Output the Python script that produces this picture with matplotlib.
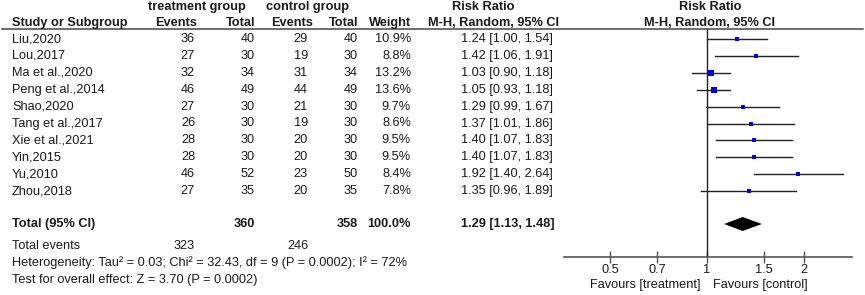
import matplotlib
matplotlib.use("Agg")
import matplotlib.pyplot as plt
import numpy as np

plt.rcParams['font.family'] = ['Liberation Sans', 'DejaVu Sans']

studies = ["Liu,2020", "Lou,2017", "Ma et al.,2020", "Peng et al.,2014", "Shao,2020",
           "Tang et al.,2017", "Xie et al.,2021", "Yin,2015", "Yu,2010", "Zhou,2018"]
t_events = [36, 27, 32, 46, 27, 26, 28, 28, 46, 27]
t_total = [40, 30, 34, 49, 30, 30, 30, 30, 52, 35]
c_events = [29, 19, 31, 44, 21, 19, 20, 20, 23, 20]
c_total = [40, 30, 34, 49, 30, 30, 30, 30, 50, 35]
weights = [10.9, 8.8, 13.2, 13.6, 9.7, 8.6, 9.5, 9.5, 8.4, 7.8]
rr = [1.24, 1.42, 1.03, 1.05, 1.29, 1.37, 1.40, 1.40, 1.92, 1.35]
rr_lo = [1.00, 1.06, 0.90, 0.93, 0.99, 1.01, 1.07, 1.07, 1.40, 0.96]
rr_hi = [1.54, 1.91, 1.18, 1.18, 1.67, 1.86, 1.83, 1.83, 2.64, 1.89]

total_t, total_c = 360, 358
total_events_t, total_events_c = 323, 246
pooled, pooled_lo, pooled_hi = 1.29, 1.13, 1.48
heterogeneity = "Heterogeneity: Tau² = 0.03; Chi² = 32.43, df = 9 (P = 0.0002); I² = 72%"
overall = "Test for overall effect: Z = 3.70 (P = 0.0002)"
xticks = [0.5, 0.7, 1, 1.5, 2]
xticklabels = ["0.5", "0.7", "1", "1.5", "2"]

W, H = 865, 295
fig = plt.figure(figsize=(W / 100, H / 100), dpi=100)
tax = fig.add_axes([0, 0, 1, 1])
tax.set_xlim(0, W)
tax.set_ylim(H, 0)
tax.axis('off')

TC = '#1a1a1a'
FS = 9.2

row_y0, row_dy = 39, 16.9
rows_y = [row_y0 + i * row_dy for i in range(len(studies))]
total_y = 224
tev_y = 246

# column anchors
x_study = 12
x_tev, x_ttot, x_cev, x_ctot, x_w, x_rr = 195, 255, 308, 358, 411, 461

def txt(x, y, s, ha='left', bold=False):
    tax.text(x, y, s, ha=ha, va='center', fontsize=FS, color=TC,
             fontweight='bold' if bold else 'normal')

# headers
txt(197, 7, "treatment group", ha='center', bold=True)
txt(308, 7, "control group", ha='center', bold=True)
txt(483, 7, "Risk Ratio", ha='center', bold=True)
txt(710, 7, "Risk Ratio", ha='center', bold=True)
hy = 23
txt(x_study, hy, "Study or Subgroup", bold=True)
txt(197, hy, "Events", ha='right', bold=True)
txt(x_ttot, hy, "Total", ha='right', bold=True)
txt(313, hy, "Events", ha='right', bold=True)
txt(x_ctot, hy, "Total", ha='right', bold=True)
txt(x_w, hy, "Weight", ha='right', bold=True)
txt(493, hy, "M-H, Random, 95% CI", ha='center', bold=True)
txt(710, hy, "M-H, Random, 95% CI", ha='center', bold=True)
tax.plot([2, 863], [29, 29], color='#555555', lw=1.2)

for i, y in enumerate(rows_y):
    txt(x_study, y, studies[i])
    txt(x_tev, y, str(t_events[i]), ha='right')
    txt(x_ttot, y, str(t_total[i]), ha='right')
    txt(x_cev, y, str(c_events[i]), ha='right')
    txt(x_ctot, y, str(c_total[i]), ha='right')
    txt(x_w, y, f"{weights[i]:.1f}%", ha='right')
    txt(x_rr, y, f"{rr[i]:.2f} [{rr_lo[i]:.2f}, {rr_hi[i]:.2f}]")

txt(x_study, total_y, "Total (95% CI)", bold=True)
txt(x_ttot, total_y, str(total_t), ha='right', bold=True)
txt(x_ctot, total_y, str(total_c), ha='right', bold=True)
txt(x_w, total_y, f"{sum(weights):.1f}%", ha='right', bold=True)
txt(x_rr, total_y, f"{pooled:.2f} [{pooled_lo:.2f}, {pooled_hi:.2f}]", bold=True)
txt(x_study, tev_y, "Total events")
txt(x_tev, tev_y, str(total_events_t), ha='right')
txt(x_cev, tev_y, str(total_events_c), ha='right')
txt(x_study, 263, heterogeneity)
txt(x_study, 280, overall)

# forest axes
fx0, fx1 = 564, 852
fy_top, fy_bot = 29, 257
fax = fig.add_axes([fx0 / W, 1 - fy_bot / H, (fx1 - fx0) / W, (fy_bot - fy_top) / H])
fax.patch.set_alpha(0)
fax.set_xscale('log')
px_per_ln = 139.9
x_one = 707
fax.set_xlim(np.exp((fx0 - x_one) / px_per_ln), np.exp((fx1 - x_one) / px_per_ln))
fax.set_ylim(fy_bot, fy_top)
for s in ['top', 'left', 'right']:
    fax.spines[s].set_visible(False)
fax.spines['bottom'].set_color('#555555')
fax.spines['bottom'].set_linewidth(1.2)
fax.set_yticks([])
fax.set_xticks(xticks)
fax.set_xticklabels(xticklabels)
fax.xaxis.set_minor_locator(matplotlib.ticker.NullLocator())
fax.tick_params(axis='x', direction='inout', length=8, width=1.0, color='#555555',
                labelsize=FS, labelcolor=TC, pad=1)

fax.axvline(1, color='#222222', lw=1.0)
for i, y in enumerate(rows_y):
    fax.plot([rr_lo[i], rr_hi[i]], [y, y], color='#222222', lw=1.0)
    fax.plot(rr[i], y, marker='s', color='#0000dd', markersize=np.sqrt(weights[i]) * 1.0,
             markeredgewidth=0)
dh = 7
fax.fill([pooled_lo, pooled, pooled_hi, pooled], [total_y, total_y - dh, total_y, total_y + dh],
         color='black', lw=0)

tax.text(700, 285, "Favours [treatment]", ha='right', va='center', fontsize=FS, color=TC)
tax.text(713, 285, "Favours [control]", ha='left', va='center', fontsize=FS, color=TC)

fig.savefig("out.png", dpi=100)
